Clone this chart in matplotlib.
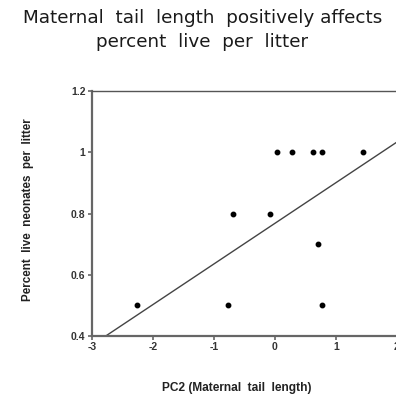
import matplotlib
matplotlib.use("Agg")
import matplotlib.pyplot as plt
import numpy as np

# PC2 (maternal tail length) vs percent live neonates per litter
pc2 = [-2.26, -0.77, 0.77, 0.04, 0.29, 0.63, 0.77, 1.45, -0.68, -0.08, 0.71]
live = [0.5, 0.5, 0.5, 1.0, 1.0, 1.0, 1.0, 1.0, 0.8, 0.8, 0.7]

# regression line
slope = 0.1327
intercept = 0.7676

xticks = [-3, -2, -1, 0, 1, 2]
xticklabels = ["-3", "-2", "-1", "0", "1", "2"]
yticks = [0.4, 0.6, 0.8, 1.0, 1.2]
yticklabels = ["0.4", "0.6", "0.8", "1", "1.2"]

fig = plt.figure(figsize=(3.96, 3.96), dpi=100)
ax = fig.add_axes([0.2316, 0.1515, 0.7704, 0.6187])

ax.plot(pc2, live, "o", color="black", markersize=3.2, zorder=3)
xs = np.array([-3.5, 2.5])
ax.plot(xs, intercept + slope * xs, color="#444444", linewidth=1.0)

ax.set_xlim(-3, 2)
ax.set_ylim(0.4, 1.2)
ax.set_xticks(xticks)
ax.set_xticklabels(xticklabels)
ax.set_yticks(yticks)
ax.set_yticklabels(yticklabels)

for side in ["left", "bottom"]:
    ax.spines[side].set_color("#666666")
    ax.spines[side].set_linewidth(1.6)
ax.spines["top"].set_color("#555555")
ax.spines["top"].set_linewidth(1.0)
ax.spines["right"].set_visible(False)

ax.tick_params(axis="both", direction="out", length=3, width=1.2, color="#666666",
               labelsize=7.5, pad=1.5, labelcolor="#333333")
for lab in ax.get_xticklabels() + ax.get_yticklabels():
    lab.set_fontweight("bold")
    lab.set_family("Liberation Sans")

fig.text(0.511, 0.955, "Maternal  tail  length  positively affects",
         ha="center", va="center", fontsize=13.2, family="DejaVu Sans", color="#1a1a1a")
fig.text(0.511, 0.894, "percent  live  per  litter",
         ha="center", va="center", fontsize=13.2, family="DejaVu Sans", color="#1a1a1a")

fig.text(0.598, 0.02, "PC2 (Maternal  tail  length)", ha="center", va="center",
         fontsize=8.6, fontweight="bold", family="Liberation Sans", color="#222222")
fig.text(0.071, 0.47, "Percent  live  neonates  per  litter", ha="center", va="center",
         rotation=90, fontsize=8.4, fontweight="bold", family="Liberation Sans", color="#222222")

fig.savefig("out.png", dpi=100)
